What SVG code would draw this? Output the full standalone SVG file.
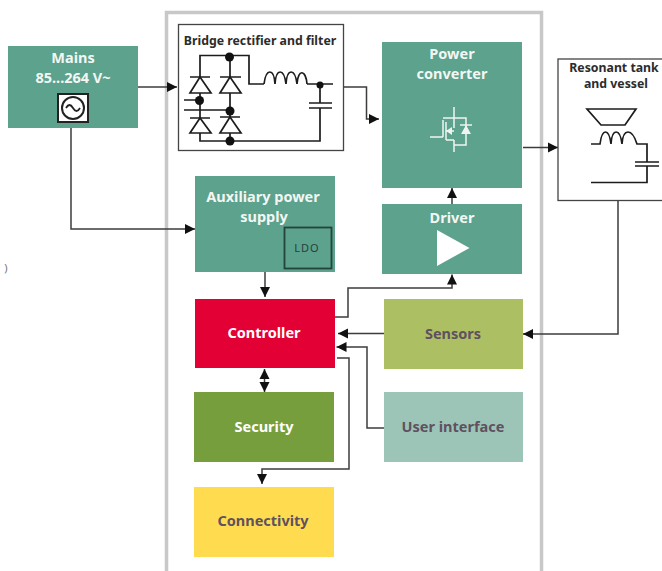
<svg xmlns="http://www.w3.org/2000/svg" width="662" height="571" viewBox="0 0 662 571">
<style>
text{font-family:"Noto Sans","Open Sans",sans-serif;font-weight:700;text-anchor:middle}
.w{fill:#f2f7f4;font-size:14.500px}
.d{fill:#5f5160;font-size:14.500px}
.k{fill:#2c2c2c;font-size:12.300px}
.c{fill:none;stroke:#3c3c3c;stroke-width:1.500}
.s{fill:none;stroke:#1c1c1c;stroke-width:1.700}
.t{fill:#fff;stroke:#1c1c1c;stroke-width:1.700}
.b{fill:#111}
.i{fill:none;stroke:#eef5f1;stroke-width:1.500}
</style>
<defs>
<marker id="a" markerUnits="userSpaceOnUse" markerWidth="11" markerHeight="11" refX="10" refY="5.500" orient="auto-start-reverse"><path d="M0 0.500L10 5.500L0 10.500Z" fill="#111"/></marker>
</defs>
<rect id="board" x="166.500" y="12.500" width="375" height="570" fill="#fff" stroke="#c8c8c8" stroke-width="3.500"/>
<g id="connectors">
<path class="c" d="M138 87H177" marker-end="url(#a)"/>
<path class="c" d="M71 128V229H195" marker-end="url(#a)"/>
<path class="c" d="M344 87H366.500V119H379" marker-end="url(#a)"/>
<path class="c" d="M523 147.500H558" marker-end="url(#a)"/>
<path class="c" d="M452 204V188" marker-end="url(#a)"/>
<path class="c" d="M265 272V297" marker-end="url(#a)"/>
<path class="c" d="M335 317H348V288H452V274.500" marker-end="url(#a)"/>
<path class="c" d="M384 333.500H338" marker-end="url(#a)"/>
<path class="c" d="M618 201V334H523" marker-end="url(#a)"/>
<path class="c" d="M384 428H367V347H336.500" marker-end="url(#a)"/>
<path class="c" d="M264.500 369V392" marker-start="url(#a)" marker-end="url(#a)"/>
<path class="c" d="M337 358H349V469H262V484" marker-end="url(#a)"/>
</g>
<g id="mains">
<rect x="8" y="46" width="130" height="82" fill="#5ca28c"/>
<text class="w" x="73" y="63">Mains</text>
<text class="w" x="73" y="83">85...264 V~</text>
<rect x="58" y="94" width="30" height="28" fill="#fff" stroke="#222" stroke-width="2"/>
<circle cx="73" cy="108" r="11" fill="none" stroke="#222" stroke-width="2"/>
<path d="M66 108Q69.500 102 73 108T80 108" fill="none" stroke="#222" stroke-width="1.800"/>
</g>
<g id="bridge">
<rect x="178.500" y="24.500" width="165" height="126" fill="#fff" stroke="#444" stroke-width="1.300"/>
<text class="k" x="260" y="45">Bridge rectifier and filter</text>
<path class="s" d="M200 77V55.500H249V84H264M307 84H333M320 84V103M320 108V141H200V133M230 56V77M200 93V118M230 93V117M184 100H200M184 110H230M230 133V141"/>
<path class="s" d="M264 84C266 68 274 68 275 84C276 68 284 68 286 84C287 68 295 68 297 84C298 68 306 70 307 84"/>
<path class="s" d="M309 103H332M309 108H332"/>
<path class="s" d="M190 77H210M220 77H241M190 118H210M220 117H240"/>
<path class="t" d="M200 77L190 93H211ZM230 77L220 93H241ZM200 118L190 133H211ZM230 117L220 133H241Z"/>
<circle class="b" cx="229.500" cy="57" r="4.500"/><circle class="b" cx="320" cy="85" r="3.500"/><circle class="b" cx="199.500" cy="100.500" r="4.500"/><circle class="b" cx="230" cy="111" r="4.500"/><circle class="b" cx="230" cy="141" r="4.500"/>
</g>
<g id="power-converter">
<rect x="382" y="42" width="140" height="146" fill="#5ca28c"/>
<text class="w" x="452" y="59">Power</text>
<text class="w" x="452" y="79">converter</text>
<path class="i" d="M430 137H443M443 120V137M446 122V140M443 118H466V145H454M454 107V128M454 140V152M446 140H454M446 131H454"/>
<path d="M446 131L452 127V135ZM461 134L466 125L471 134Z" fill="#eef5f1"/>
<path class="i" d="M460 125H472"/>
</g>
<g id="resonant-tank">
<rect x="558" y="59" width="110" height="141.500" fill="#fff" stroke="#444" stroke-width="1.300"/>
<text class="k" x="614" y="72">Resonant tank</text>
<text class="k" x="616" y="88">and vessel</text>
<path class="s" d="M587 109H636L625 125H601Z" stroke-width="1.200"/>
<path class="s" d="M591 144H600C602 128 609 128 611 144C612 128 620 128 622 144C623 128 632 128 637 144H647V162M647 166V182.500H591"/>
<path class="s" d="M635 162H659M635 166H659"/>
</g>
<g id="aux-supply">
<rect x="195" y="176" width="140" height="96" fill="#5ca28c"/>
<text class="w" x="263" y="202">Auxiliary power</text>
<text class="w" x="264" y="222">supply</text>
<rect x="284.500" y="227.500" width="47" height="41" fill="#5ca28c" stroke="#24433c" stroke-width="1.800"/>
<text x="307" y="252" font-size="11" style="fill:#28403a;font-weight:400;letter-spacing:1px">LDO</text>
</g>
<g id="driver">
<rect x="382" y="204" width="140" height="70" fill="#5ca28c"/>
<text class="w" x="452" y="223">Driver</text>
<path d="M437 230L469.500 248L437 266Z" fill="#fff"/>
</g>
<g id="controller">
<rect x="195" y="299" width="140" height="69" fill="#e30034"/>
<text class="w" x="264" y="338" style="fill:#fff">Controller</text>
</g>
<g id="sensors">
<rect x="384" y="299" width="139" height="70" fill="#acbf63"/>
<text class="d" x="453" y="339">Sensors</text>
</g>
<g id="security">
<rect x="194" y="392" width="140" height="70" fill="#769e3c"/>
<text class="w" x="264" y="432" style="fill:#fff">Security</text>
</g>
<g id="user-interface">
<rect x="384" y="392" width="139" height="70" fill="#9cc5b7"/>
<text class="d" x="453" y="432">User interface</text>
</g>
<g id="connectivity">
<rect x="194" y="487" width="140" height="70" fill="#ffdc4f"/>
<text class="d" x="263" y="526">Connectivity</text>
</g>
<text x="6" y="272" font-size="11" style="fill:#777;font-weight:400">)</text>
</svg>
